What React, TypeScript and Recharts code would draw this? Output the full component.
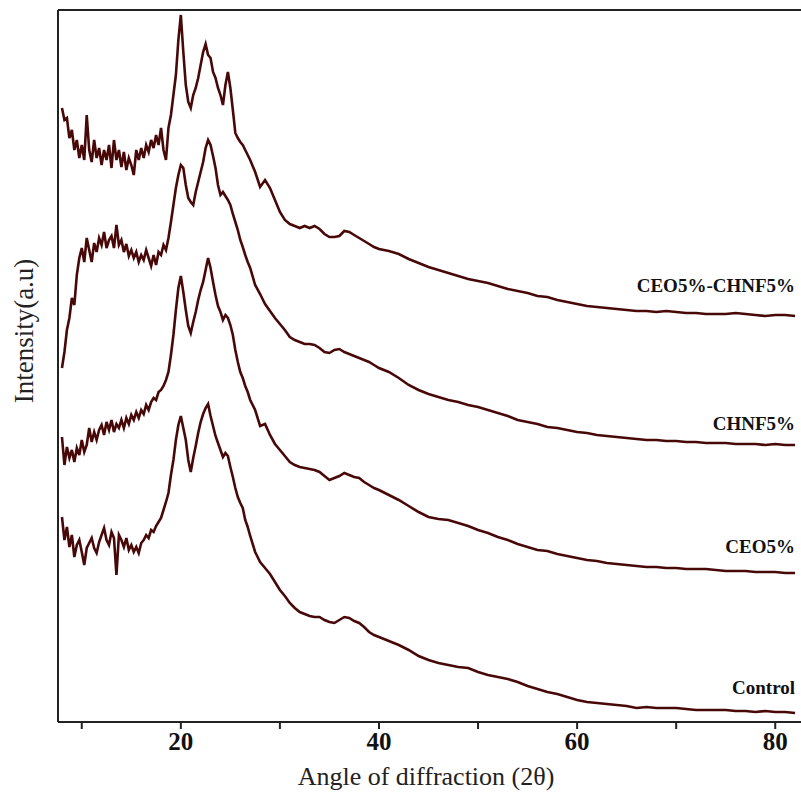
import { LineChart, Line, XAxis, YAxis, ReferenceLine } from 'recharts'

// diffraction angle (2θ), shared by all four patterns
const angles = [
  8, 8.25, 8.5, 8.75, 9, 9.25, 9.5, 9.75, 10, 10.25, 10.5, 10.75, 11, 11.25, 11.5, 11.75, 12, 12.25, 12.5, 12.75,
  13, 13.25, 13.5, 13.75, 14, 14.25, 14.5, 14.75, 15, 15.25, 15.5, 15.75, 16, 16.25, 16.5, 16.75, 17,
  17.25, 17.5, 17.75, 18, 18.25, 18.5, 18.75, 19, 19.25, 19.5, 19.75, 20, 20.25, 20.5, 20.75, 21, 21.25, 21.5, 21.75,
  22, 22.25, 22.5, 22.75, 23, 23.25, 23.5, 23.75, 24, 24.25, 24.5, 24.75, 25, 25.25, 25.5, 25.75, 26, 26.25, 26.5, 26.75, 27,
  27.5, 28, 28.5, 29, 29.5, 30, 30.5, 31, 31.5, 32, 32.5, 33, 33.5, 34, 34.5, 35, 35.5, 36, 36.5, 37, 37.5, 38, 38.5, 39, 39.5, 40,
  41, 42, 43, 44, 45, 46, 47, 48, 49, 50, 51, 52, 53, 54, 55, 56, 57, 58, 59, 60, 61,
  62, 63, 64, 65, 66, 67, 68, 69, 70, 71, 72, 73, 74, 75, 76, 77, 78, 79, 80, 81, 82,
]

// stacked intensities (a.u.)
const ceoChnf = [
  614, 602, 604, 584, 592, 572, 582, 564, 577, 562, 607, 572, 560, 582, 564, 574, 557, 572, 562, 577,
  554, 582, 562, 572, 555, 570, 552, 564, 557, 547, 572, 562, 574, 564, 577, 570, 582,
  574, 587, 577, 594, 572, 562, 594, 607, 627, 647, 682, 707, 670, 637, 620, 614, 627, 634, 644,
  657, 670, 678, 667, 664, 650, 644, 634, 627, 617, 637, 650, 634, 612, 589, 584, 580, 577, 572, 567, 562,
  550, 535, 542, 534, 522, 510, 502, 498, 496, 494, 496, 494, 496, 493, 488, 485, 485, 486, 491, 490, 487, 484, 481, 478, 475, 473,
  471, 468, 463, 459, 455, 452, 449, 446, 443, 441, 439, 436, 433, 431, 429, 426, 425, 422, 420, 418, 416,
  415, 414, 413, 412, 411, 411, 410, 411, 410, 409, 409, 408, 408, 408, 409, 408, 407, 406, 407, 407, 406,
]

const chnf = [
  354, 370, 392, 404, 424, 417, 447, 464, 474, 460, 484, 472, 460, 479, 470, 484, 477, 490, 474, 482,
  486, 474, 497, 477, 482, 470, 478, 466, 472, 464, 470, 460, 467, 462, 472, 464, 456,
  467, 457, 470, 467, 477, 472, 484, 500, 517, 534, 547, 557, 554, 537, 524, 520, 517, 530, 540,
  550, 560, 574, 582, 577, 566, 554, 537, 527, 530, 526, 522, 517, 508, 500, 492, 482, 475, 467, 460, 454,
  437, 428, 418, 411, 404, 398, 392, 385, 382, 380, 378, 378, 377, 374, 370, 369, 372, 373, 370, 368, 366, 364, 362, 360, 357, 354,
  350, 344, 337, 332, 328, 325, 322, 320, 317, 315, 312, 309, 306, 302, 300, 298, 295, 294, 292, 290, 289,
  287, 286, 285, 284, 283, 282, 282, 281, 281, 280, 280, 279, 279, 279, 278, 278, 278, 277, 278, 277, 277,
]

const ceo = [
  285, 257, 275, 264, 272, 260, 274, 267, 282, 270, 277, 294, 280, 290, 282, 292, 297, 287, 300, 292,
  302, 290, 298, 294, 302, 294, 304, 298, 307, 302, 310, 304, 312, 308, 317, 312, 320,
  324, 322, 330, 332, 336, 342, 350, 367, 387, 412, 434, 446, 430, 412, 396, 389, 400, 410, 422,
  432, 440, 452, 464, 454, 440, 427, 416, 410, 402, 407, 404, 397, 387, 372, 360, 350, 344, 336, 330, 322,
  312, 296, 298, 287, 278, 272, 266, 260, 257, 255, 254, 253, 252, 250, 246, 242, 244, 246, 249, 247, 245, 244, 240, 237, 234, 232,
  227, 222, 216, 210, 205, 203, 202, 199, 196, 192, 189, 185, 182, 178, 175, 172, 171, 168, 166, 164, 162,
  161, 159, 158, 157, 156, 155, 155, 154, 154, 153, 153, 153, 152, 151, 151, 151, 150, 150, 150, 149, 149,
]

const control = [
  205, 182, 195, 175, 187, 165, 177, 182, 170, 157, 174, 179, 184, 174, 169, 180, 187, 194, 182, 177,
  190, 184, 147, 187, 182, 175, 184, 172, 177, 170, 175, 169, 179, 182, 187, 184, 192,
  190, 196, 200, 204, 212, 220, 229, 247, 262, 282, 297, 306, 294, 282, 262, 250, 264, 276, 289,
  300, 308, 314, 318, 306, 296, 286, 279, 272, 265, 269, 266, 255, 245, 234, 225, 219, 214, 202, 195, 186,
  170, 160, 154, 148, 140, 132, 126, 119, 114, 110, 108, 106, 105, 105, 102, 100, 99, 102, 105, 104, 101, 99, 95, 90, 87, 85,
  81, 77, 72, 66, 62, 59, 57, 55, 54, 50, 47, 45, 43, 40, 36, 33, 30, 28, 25, 22, 20,
  19, 18, 17, 16, 14, 15, 14, 14, 14, 13, 12, 12, 12, 12, 11, 11, 10, 11, 10, 10, 9,
]

const xTicks = [10, 20, 30, 40, 50, 60, 70, 80]

const rows = angles.map((angle, i) => ({
  angle,
  ceoChnf: ceoChnf[i],
  chnf: chnf[i],
  ceo: ceo[i],
  control: control[i],
}))

const serif = '"Liberation Serif", "Times New Roman", serif'
const ink = '#480808'

const series = [
  { key: 'ceoChnf', name: 'CEO5%-CHNF5%', dy: -24 },
  { key: 'chnf', name: 'CHNF5%', dy: -15 },
  { key: 'ceo', name: 'CEO5%', dy: -20 },
  { key: 'control', name: 'Control', dy: -19 },
]

function endLabel(name: string, dy: number) {
  return (props: any) => {
    if (props.index !== angles.length - 1) return <g />
    return (
      <text x={props.x} y={props.y + dy} textAnchor="end" fontFamily={serif} fontWeight={700} fontSize={19} fill="#111">
        {name}
      </text>
    )
  }
}

export default function App() {
  return (
    <div style={{ position: 'absolute', left: 0, top: 0, background: '#fff' }}>
      <LineChart width={801} height={802} data={rows} margin={{ top: 10, right: 0, bottom: 0, left: 0 }}>
        <XAxis
          dataKey="angle"
          type="number"
          domain={[7.6, 82.6]}
          allowDataOverflow
          ticks={xTicks}
          tickFormatter={(v) => (v % 20 === 0 ? String(v) : '')}
          height={80}
          tickSize={7}
          tickMargin={3}
          axisLine={{ stroke: '#222', strokeWidth: 2 }}
          tickLine={{ stroke: '#222', strokeWidth: 2 }}
          tick={{ fill: '#111', fontSize: 25, fontWeight: 700, fontFamily: serif }}
          label={{
            content: () => (
              <text x={426} y={785} textAnchor="middle" fontFamily={serif} fontSize={26} fill="#222">
                Angle of diffraction (2θ)
              </text>
            ),
          }}
        />
        <YAxis
          type="number"
          domain={[0, 712]}
          width={58}
          tick={false}
          tickLine={false}
          axisLine={{ stroke: '#222', strokeWidth: 2 }}
          label={{
            content: () => (
              <text
                x={33}
                y={331}
                transform="rotate(-90, 33, 331)"
                textAnchor="middle"
                fontFamily={serif}
                fontSize={27}
                fill="#222"
              >
                Intensity(a.u)
              </text>
            ),
          }}
        />
        <ReferenceLine y={712} stroke="#222" strokeWidth={2} />
        {series.map((s) => (
          <Line
            key={s.key}
            dataKey={s.key}
            type="linear"
            stroke={ink}
            strokeWidth={2.6}
            dot={false}
            isAnimationActive={false}
            label={endLabel(s.name, s.dy)}
          />
        ))}
      </LineChart>
    </div>
  )
}
